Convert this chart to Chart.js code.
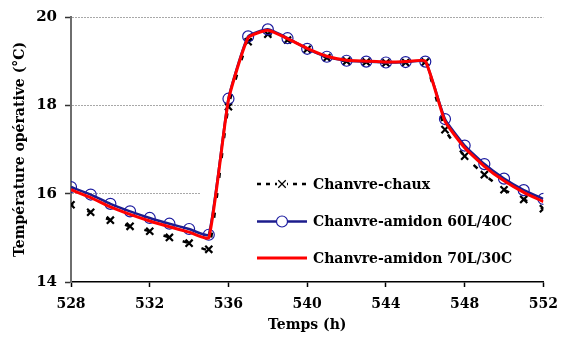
<!DOCTYPE html>
<html>
<head>
<meta charset="utf-8">
<script src="https://cdn.jsdelivr.net/npm/chart.js@4.4.0/dist/chart.umd.min.js"></script>
<style>
  body { margin: 0; background: #fff; }
  #container { width: 567px; height: 345px; }
</style>
</head>
<body>
<div id="container">
  <canvas id="canvas"></canvas>
</div>
<script>
  // temps (h)
  var HOURS = [528, 529, 530, 531, 532, 533, 534, 535, 536, 537, 538, 539, 540,
               541, 542, 543, 544, 545, 546, 547, 548, 549, 550, 551, 552];

  var CHAUX = [15.75, 15.58, 15.40, 15.26, 15.15, 15.01, 14.88, 14.74, 17.97, 19.44, 19.61, 19.48, 19.27,
               19.08, 19.00, 18.98, 18.96, 18.97, 18.98, 17.45, 16.85, 16.43, 16.09, 15.87, 15.66];

  var AMIDON_60_40 = [16.15, 15.98, 15.77, 15.60, 15.45, 15.32, 15.20, 15.07, 18.15, 19.56, 19.72, 19.52, 19.28,
                      19.10, 19.01, 18.99, 18.97, 18.98, 18.99, 17.69, 17.09, 16.67, 16.34, 16.08, 15.88];

  var AMIDON_70_30 = [16.09, 15.91, 15.70, 15.53, 15.38, 15.25, 15.13, 15.00, 18.12, 19.53, 19.70, 19.51, 19.29,
                      19.11, 19.02, 19.00, 18.98, 18.99, 19.00, 17.64, 17.04, 16.62, 16.29, 16.03, 15.82];

  var SERIES_NAMES = ['Chanvre-chaux', 'Chanvre-amidon 60L/40C', 'Chanvre-amidon 70L/30C'];

  var X_MIN = 528, X_MAX = 552, X_STEP = 4;
  var Y_MIN = 14, Y_MAX = 20, Y_STEP = 2;

  var FONT = '"DejaVu Serif", "Liberation Serif", serif';

  function pts(values) {
    return HOURS.map(function(h, i) { return { x: h, y: values[i] }; });
  }

  // legend drawn inside the plot, on a white box
  var legendBox = {
    id: 'legendBox',
    beforeDatasetsDraw: function(chart) {
      var ctx = chart.ctx, a = chart.chartArea;
      ctx.save();
      ctx.fillStyle = '#fff';
      ctx.fillRect(a.left + 129, a.top + 151, a.right - a.left - 129, a.bottom - a.top - 153);
      ctx.restore();
    },
    afterDatasetsDraw: function(chart) {
      var ctx = chart.ctx, a = chart.chartArea;
      var x0 = a.left + 186, x1 = a.left + 236, tx = a.left + 242;
      var rows = [a.top + 167, a.top + 204.5, a.top + 241];
      chart.data.datasets.forEach(function(ds, i) {
        var y = rows[i];
        ctx.save();
        ctx.strokeStyle = ds.borderColor;
        ctx.lineWidth = ds.borderWidth;
        ctx.setLineDash(ds.legendDash || ds.borderDash || []);
        ctx.beginPath();
        ctx.moveTo(x0, y);
        ctx.lineTo(x1, y);
        ctx.stroke();
        ctx.setLineDash([]);
        var cx = (x0 + x1) / 2, r = ds.pointRadius;
        if (ds.pointStyle === 'crossRot' && r > 0) {
          ctx.fillStyle = '#fff';
          ctx.fillRect(cx - r, y - r, 2 * r, 2 * r);
          ctx.strokeStyle = ds.pointBorderColor;
          ctx.lineWidth = 1.3;
          ctx.beginPath();
          ctx.moveTo(cx - r * 0.75, y - r * 0.75); ctx.lineTo(cx + r * 0.75, y + r * 0.75);
          ctx.moveTo(cx + r * 0.75, y - r * 0.75); ctx.lineTo(cx - r * 0.75, y + r * 0.75);
          ctx.stroke();
        } else if (r > 0) {
          ctx.fillStyle = '#fff';
          ctx.strokeStyle = ds.pointBorderColor;
          ctx.lineWidth = ds.pointBorderWidth;
          ctx.beginPath();
          ctx.arc(cx, y, r, 0, Math.PI * 2);
          ctx.fill();
          ctx.stroke();
        }
        ctx.fillStyle = '#000';
        ctx.font = 'bold 14px ' + FONT;
        ctx.textBaseline = 'middle';
        ctx.fillText(ds.label, tx, y + 1);
        ctx.restore();
      });
    }
  };

  window.onload = function() {
    var ctx = document.getElementById('canvas').getContext('2d');
    window.myChart = new Chart(ctx, {
      type: 'line',
      data: {
        datasets: [
          {
            label: SERIES_NAMES[0],
            data: pts(CHAUX),
            borderColor: '#000',
            borderWidth: 2.5,
            borderDash: [5, 15],
            borderDashOffset: 2.5,
            legendDash: [4, 5],
            pointStyle: 'crossRot',
            pointRadius: 5,
            pointBorderColor: '#000',
            pointBorderWidth: 2.2,
            pointBackgroundColor: 'rgba(0,0,0,0)',
            tension: 0.15,
            order: 3
          },
          {
            label: SERIES_NAMES[1],
            data: pts(AMIDON_60_40),
            borderColor: '#1c1c8c',
            borderWidth: 2.5,
            pointStyle: 'circle',
            pointRadius: 5.5,
            pointBorderColor: '#1c1ca0',
            pointBorderWidth: 1.2,
            pointBackgroundColor: 'rgba(0,0,0,0)',
            tension: 0.15,
            order: 2
          },
          {
            label: SERIES_NAMES[2],
            data: pts(AMIDON_70_30),
            borderColor: '#ff0000',
            borderWidth: 3,
            pointRadius: 0,
            tension: 0.15,
            order: 1
          }
        ]
      },
      options: {
        responsive: true,
        maintainAspectRatio: false,
        animation: false,
        layout: { padding: { left: 0, right: 15, top: 17, bottom: 0 } },
        plugins: {
          legend: { display: false },
          tooltip: { enabled: false }
        },
        scales: {
          x: {
            type: 'linear',
            min: X_MIN,
            max: X_MAX,
            afterFit: function(scale) { scale.height = 63; },
            ticks: {
              stepSize: X_STEP,
              color: '#000',
              padding: 9,
              maxRotation: 0,
              font: { family: FONT, size: 14, weight: 'bold' }
            },
            grid: {
              drawOnChartArea: false,
              drawTicks: true,
              tickLength: 5,
              tickColor: '#000',
              tickWidth: 1.5
            },
            border: { color: '#000', width: 1.5 },
            title: {
              display: true,
              text: 'Temps (h)',
              color: '#000',
              padding: { top: 0, bottom: 11 },
              font: { family: FONT, size: 14, weight: 'bold' }
            }
          },
          y: {
            min: Y_MIN,
            max: Y_MAX,
            afterFit: function(scale) { scale.width = 71; },
            ticks: {
              stepSize: Y_STEP,
              color: '#000',
              padding: 8,
              font: { family: FONT, size: 15, weight: 'bold' }
            },
            grid: {
              color: function(c) { return c.tick && c.tick.value === Y_MIN ? 'rgba(0,0,0,0)' : '#a8a8a8'; },
              lineWidth: 1,
              drawTicks: true,
              tickLength: 6,
              tickColor: '#333',
              tickWidth: 1.5
            },
            border: { color: '#6e6e6e', width: 2, dash: [2, 1] },
            title: {
              display: true,
              text: 'Température opérative (°C)',
              color: '#000',
              padding: { top: 12, bottom: 0 },
              font: { family: FONT, size: 14, weight: 'bold' }
            }
          }
        }
      },
      plugins: [legendBox]
    });
  };
</script>
</body>
</html>
